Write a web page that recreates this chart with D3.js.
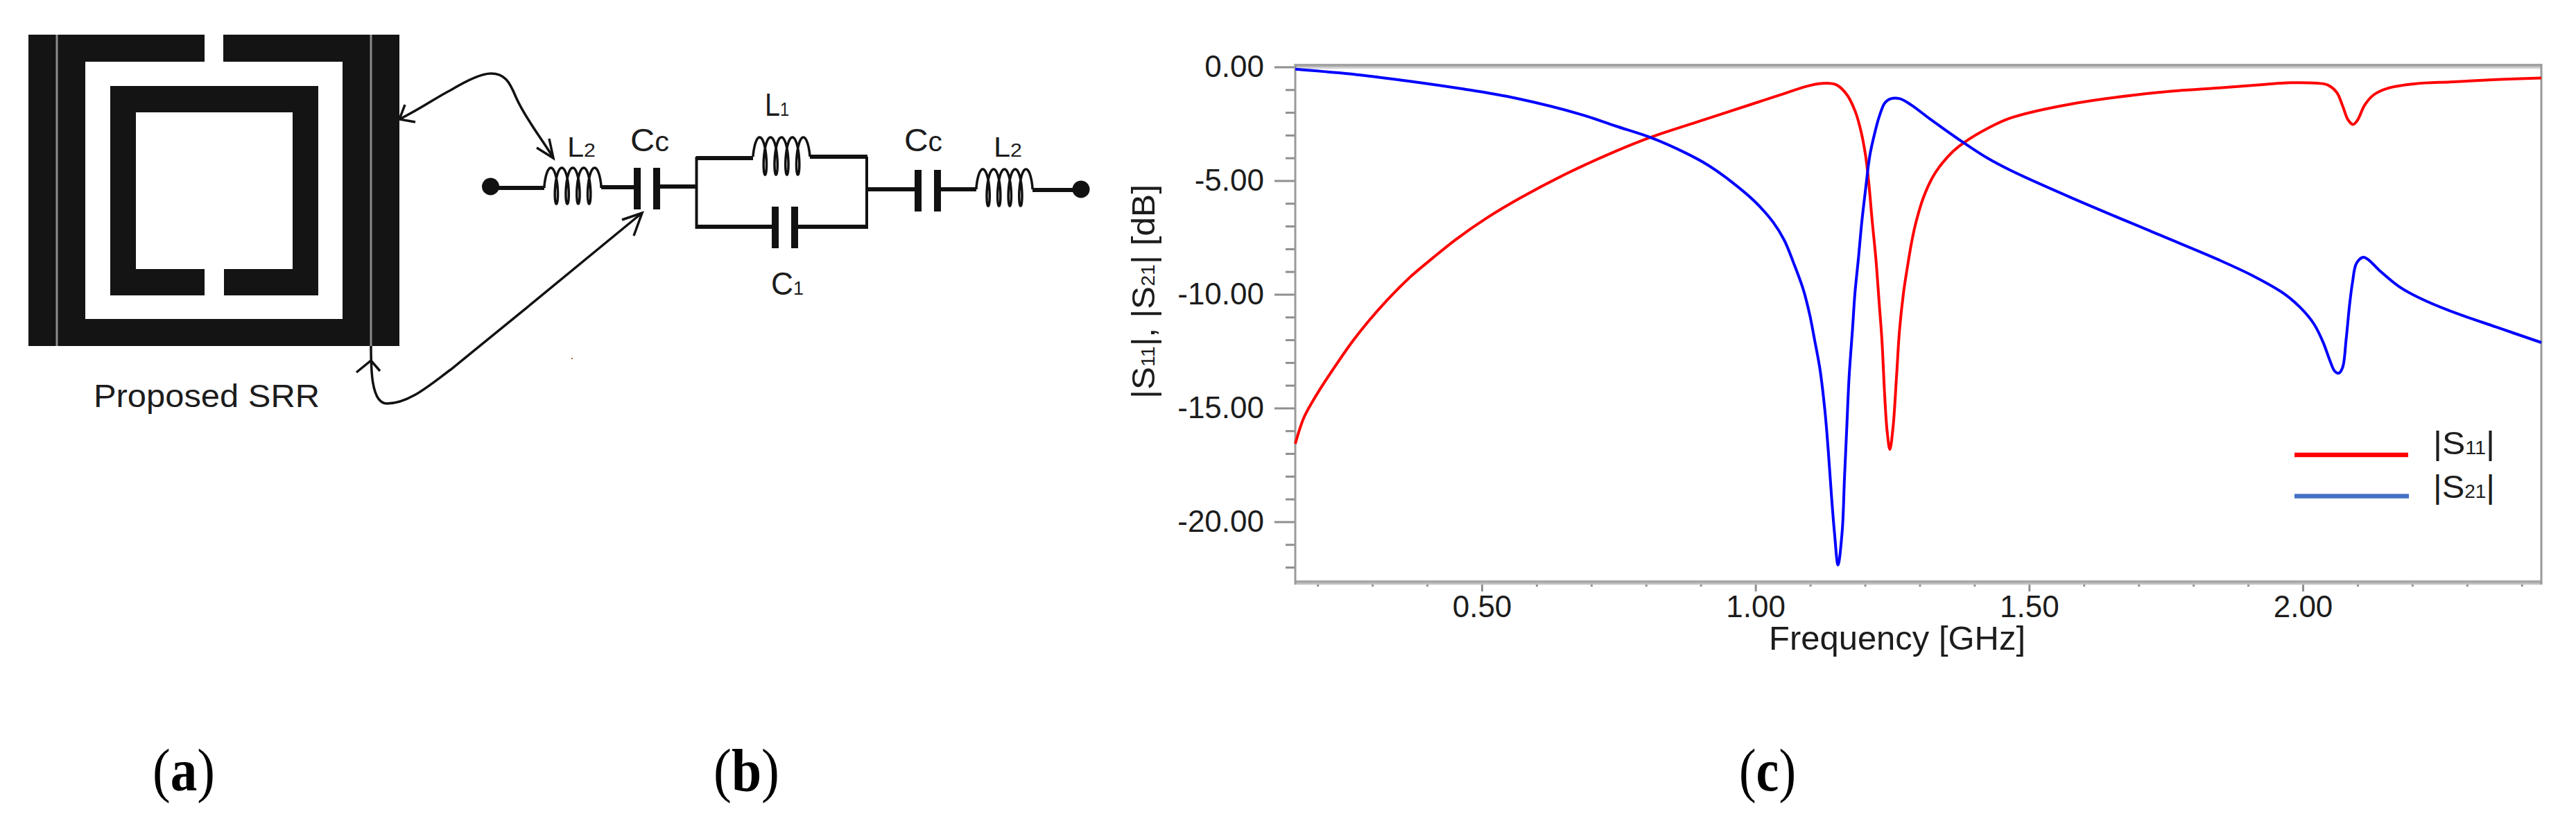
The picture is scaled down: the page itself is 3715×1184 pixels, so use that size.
<!DOCTYPE html>
<html>
<head>
<meta charset="utf-8">
<script src="https://cdn.jsdelivr.net/npm/d3@7"></script>
<style>
  html, body { margin: 0; padding: 0; background: #fff; }
  svg { display: block; }
  text { font-family: "Liberation Sans", Arial, sans-serif; fill: #1c1c1c; }
  .axis path { display: none; }
  .axis line { stroke: #8f8f8f; stroke-width: 3; }
  .axis text { font-size: 44px; fill: #1c1c1c; }
  .panel text { font-family: "Liberation Serif", serif; fill: #000; }
</style>
</head>
<body>
<div id="chart"></div>
<script>
// values (frequency in GHz, level in dB)
var s11Freq = [0.1592, 0.1744, 0.1913, 0.2124, 0.2377, 0.2631, 0.2948, 0.3264, 0.3686, 0.411, 0.4531, 0.508, 0.5713, 0.6558, 0.7445, 0.8079, 0.8924, 0.998, 1.044, 1.099, 1.129, 1.148, 1.167, 1.182, 1.192, 1.201, 1.207, 1.213, 1.220, 1.226, 1.231, 1.2365, 1.2407, 1.2455, 1.2513, 1.2577, 1.2631, 1.2703, 1.2766, 1.2851, 1.2935, 1.306, 1.323, 1.340, 1.361, 1.382, 1.4245, 1.467, 1.577, 1.7365, 1.847, 1.931, 1.970, 2.028, 2.045, 2.062, 2.073, 2.083, 2.092, 2.100, 2.113, 2.130, 2.155, 2.206, 2.269, 2.3535, 2.4358];
var s11Db = [-16.57, -15.45, -14.69, -13.87, -12.96, -12.09, -11.13, -10.27, -9.25, -8.39, -7.58, -6.66, -5.75, -4.68, -3.71, -3.10, -2.43, -1.60, -1.24, -0.82, -0.72, -0.79, -1.22, -1.94, -2.75, -3.87, -5.09, -6.71, -8.44, -10.37, -12.00, -14.64, -16.06, -16.82, -15.86, -13.62, -11.60, -9.96, -8.95, -7.73, -6.81, -5.80, -4.88, -4.27, -3.71, -3.31, -2.70, -2.24, -1.63, -1.12, -0.92, -0.77, -0.70, -0.72, -0.79, -1.12, -1.73, -2.34, -2.53, -2.34, -1.68, -1.22, -0.94, -0.74, -0.66, -0.56, -0.49];

var s21Freq = [0.1592, 0.272, 0.369, 0.466, 0.563, 0.6812, 0.7445, 0.8079, 0.8712, 0.9134, 0.9557, 0.998, 1.0318, 1.0528, 1.070, 1.087, 1.099, 1.108, 1.118, 1.127, 1.133, 1.139, 1.1445, 1.1508, 1.1584, 1.1626, 1.1668, 1.1711, 1.1774, 1.1817, 1.188, 1.1943, 1.2006, 1.2091, 1.2175, 1.226, 1.2365, 1.2471, 1.264, 1.285, 1.319, 1.382, 1.4245, 1.467, 1.577, 1.7365, 1.847, 1.910, 1.965, 1.995, 2.020, 2.037, 2.0495, 2.058, 2.0656, 2.0727, 2.0791, 2.0854, 2.0909, 2.098, 2.1107, 2.1213, 2.1424, 2.176, 2.214, 2.269, 2.3535, 2.4358];
var s21Db = [-0.10, -0.34, -0.63, -0.97, -1.38, -2.09, -2.60, -3.10, -3.77, -4.32, -5.04, -5.90, -6.81, -7.63, -8.64, -9.76, -10.88, -12.00, -13.32, -15.15, -16.88, -18.91, -20.53, -21.90, -20.43, -18.09, -15.86, -13.62, -11.49, -9.96, -8.44, -6.81, -5.49, -3.87, -2.95, -2.19, -1.58, -1.40, -1.40, -1.68, -2.29, -3.36, -4.02, -4.56, -5.75, -7.37, -8.49, -9.20, -9.96, -10.57, -11.29, -12.10, -12.91, -13.37, -13.47, -13.22, -12.00, -10.47, -9.46, -8.64, -8.37, -8.51, -9.00, -9.66, -10.17, -10.73, -11.44, -12.12];

var xMajor = [0.5, 1.0, 1.5, 2.0];
var xMinor = [0.2, 0.3, 0.4, 0.6, 0.7, 0.8, 0.9, 1.1, 1.2, 1.3, 1.4, 1.6, 1.7, 1.8, 1.9, 2.1, 2.2, 2.3, 2.4];
var yMajor = [0, -5, -10, -15, -20];
var yMinor = [-1, -2, -3, -4, -6, -7, -8, -9, -11, -12, -13, -14, -16, -17, -18, -19, -21, -22];

var w = 3715, h = 1184;

var svg = d3.select("#chart").append("svg")
    .attr("width", w)
    .attr("height", h)
    .style("font-family", "Liberation Sans");

// text with smaller digits on the same baseline, parts are [string, size]
function richText(g, parts, x, y, len) {
    var t = g.append("text").attr("x", x).attr("y", y);
    parts.forEach(function(p){
        t.append("tspan").attr("font-size", p[1]).text(p[0]);
    });
    if (len) t.attr("textLength", len).attr("lengthAdjust", "spacingAndGlyphs");
    return t;
}

// ---- (a) the ring ----
var srr = svg.append("g");
var ink = "#141414";
function box(x0, y0, x1, y1, fill) {
    srr.append("rect").attr("x", x0).attr("y", y0)
        .attr("width", x1 - x0).attr("height", y1 - y0).attr("fill", fill);
}
box(41, 50, 576, 499, ink);
box(123, 89, 494, 460, "#fff");
box(295, 50, 322, 89, "#fff");
box(159, 124, 459, 426, ink);
box(196, 162, 422, 388, "#fff");
box(295, 388, 323, 426, "#fff");
[82, 535].forEach(function(x){
    srr.append("line").attr("x1", x).attr("x2", x).attr("y1", 50).attr("y2", 499)
        .attr("stroke", "#8c8c8c").attr("stroke-width", 3);
});
srr.append("text").attr("x", 135).attr("y", 587).attr("font-size", 46)
    .attr("textLength", 326).attr("lengthAdjust", "spacingAndGlyphs").text("Proposed SRR");

// ---- (b) the circuit ----
var cir = svg.append("g");
function wire(x1, y1, x2, y2, sw) {
    cir.append("line").attr("x1", x1).attr("y1", y1).attr("x2", x2).attr("y2", y2)
        .attr("stroke", "#111").attr("stroke-width", sw || 5);
}
function cap(x1, x2, y1, y2) {
    wire(x1, y1, x1, y2, 10);
    wire(x2, y1, x2, y2, 10);
}
var coilLine = d3.line();
function coil(x0, x1, top, bottom, wireY) {
    var turns = 4, k = 2.2, pts = [[x0, wireY]];
    var r = (x1 - x0) / (2 * Math.PI * turns + Math.PI + 2 * k);
    var d = k * r;
    var cy = (top + bottom) / 2, hh = (bottom - top) / 2;
    d3.range(-Math.PI / 2, 2 * Math.PI * turns + Math.PI / 2 + 0.01, 0.1).forEach(function(t){
        pts.push([x0 + d + r * (t + Math.PI / 2) + d * Math.sin(t), cy - hh * Math.cos(t)]);
    });
    pts.push([x1, wireY]);
    cir.append("path").attr("d", coilLine(pts)).attr("fill", "none")
        .attr("stroke", "#111").attr("stroke-width", 3.5);
}
wire(707, 271, 785, 271, 6);
coil(785, 867, 242, 294, 271);
wire(867, 270, 919, 270, 6);
cap(919, 947, 242, 302);
wire(947, 269, 1004, 269, 6);
wire(1004.5, 226, 1004.5, 330, 4);
wire(1004, 228, 1086, 228, 6);
coil(1086, 1168, 198, 252, 226);
wire(1168, 226, 1251, 226, 6);
wire(1004, 327, 1118, 327, 6);
cap(1118, 1146, 298, 358);
wire(1146, 327, 1251, 327, 6);
wire(1250, 226, 1250, 330, 4);
wire(1250, 273, 1324, 273, 6);
cap(1324, 1352, 245, 305);
wire(1352, 273, 1408, 273, 6);
coil(1408, 1489, 244, 297, 273);
wire(1489, 274, 1559, 274, 6);
[[707.5, 269], [1559, 273]].forEach(function(c){
    cir.append("circle").attr("cx", c[0]).attr("cy", c[1]).attr("r", 12.5).attr("fill", "#111");
});

var lab = svg.append("g");
richText(lab, [["L", 40], ["2", 28]], 818, 226, 41);
richText(lab, [["C", 47], ["c", 40]], 909, 218, 56);
richText(lab, [["L", 47], ["1", 28]], 1103, 167, 35);
richText(lab, [["C", 47], ["c", 40]], 1304, 218, 55);
richText(lab, [["L", 40], ["2", 28]], 1433, 226, 41);
richText(lab, [["C", 46], ["1", 28]], 1112, 425, 47);

// leader curves between the ring and the circuit
var arrows = svg.append("g").attr("fill", "none").attr("stroke", "#111").attr("stroke-width", 3.5);
arrows.append("path").attr("d", "M576,172 C610,155 630,140 650,130 C675,115 695,106 708,106 C728,106 735,118 744,140 C758,172 785,205 798,228");
arrows.append("path").attr("d", "M584,151 L576,172 L599,176");
arrows.append("path").attr("d", "M774,213 L798,228 L792,200");
arrows.append("path").attr("d", "M535,499 C535,530 535,582 558,582 C590,582 620,555 650,533 C740,460 850,370 926,307");
arrows.append("path").attr("d", "M514,537 L535,520 L548,535");
arrows.append("path").attr("d", "M897,317 L926,307 L914,340");
svg.append("rect").attr("x", 824).attr("y", 516).attr("width", 2).attr("height", 2).attr("fill", "#8a6a40");

// ---- (c) the S-parameter plot ----
var x = d3.scaleLinear().domain([0.1592, 2.4358]).range([1868, 3665]);
var y = d3.scaleLinear().domain([0, -22.67]).range([96.5, 840]);

var plot = svg.append("g");

plot.append("g").attr("class", "axis").attr("transform", "translate(1868,0)")
    .call(d3.axisLeft(y).tickValues(yMinor).tickSize(14).tickFormat(""));
plot.append("g").attr("class", "axis").attr("transform", "translate(1868,0)")
    .call(d3.axisLeft(y).tickValues(yMajor).tickSize(30).tickPadding(15)
        .tickFormat(function(d){ return d.toFixed(2); }));
plot.append("g").attr("class", "axis").attr("transform", "translate(0,840)")
    .call(d3.axisBottom(x).tickValues(xMinor).tickSize(6).tickFormat(""));
plot.append("g").attr("class", "axis").attr("transform", "translate(0,840)")
    .call(d3.axisBottom(x).tickValues(xMajor).tickSize(13).tickPadding(6)
        .tickFormat(function(d){ return d.toFixed(2); }));

// frame: the horizontal edges are a dark line with a light one next to it
function edge(x1, y1, x2, y2, col, sw) {
    plot.append("line").attr("x1", x1).attr("y1", y1).attr("x2", x2).attr("y2", y2)
        .attr("stroke", col).attr("stroke-width", sw);
}
edge(1868, 94, 3666, 94, "#a3a3a3", 4);
edge(1868, 97.5, 3666, 97.5, "#cfcfcf", 3);
edge(1867, 839, 3666, 839, "#a8a8a8", 4);
edge(1867, 842, 3666, 842, "#c4c4c4", 2.5);
edge(1868, 92, 1868, 843, "#9a9a9a", 3);
edge(3665, 92, 3665, 843, "#9a9a9a", 3);

var line = d3.line()
    .x(function(d){ return x(d[0]); })
    .y(function(d){ return y(d[1]); })
    .curve(d3.curveCatmullRom.alpha(0.5));

plot.append("path").datum(d3.zip(s11Freq, s11Db))
    .attr("d", line).attr("fill", "none").attr("stroke", "#ff0000").attr("stroke-width", 4);
plot.append("path").datum(d3.zip(s21Freq, s21Db))
    .attr("d", line).attr("fill", "none").attr("stroke", "#0000ff").attr("stroke-width", 4);

// axis titles
var tg = plot.append("g");
tg.append("text").attr("x", 2551).attr("y", 937).attr("font-size", 49)
    .attr("textLength", 370).attr("lengthAdjust", "spacingAndGlyphs").text("Frequency [GHz]");
richText(tg, [["|S", 47], ["11", 27], ["|, |S", 47], ["21", 27], ["| [dB]", 47]], 0, 0, 309)
    .attr("transform", "translate(1665,575) rotate(-90)");

// legend
edge(3309, 656, 3473, 656, "#ff0000", 6.5);
edge(3309, 715.5, 3474, 715.5, "#4472c4", 6.5);
richText(tg, [["|S", 47], ["11", 27], ["|", 47]], 3509, 655, 89);
richText(tg, [["|S", 47], ["21", 27], ["|", 47]], 3509, 718, 89);

// panel letters
var panels = svg.append("g").attr("class", "panel");
[["a", 220, 90], ["b", 1029, 95], ["c", 2508, 82]].forEach(function(p){
    var t = panels.append("text").attr("x", p[1]).attr("y", 1140).attr("font-size", 86)
        .attr("textLength", p[2]).attr("lengthAdjust", "spacingAndGlyphs");
    t.append("tspan").text("(");
    t.append("tspan").attr("font-weight", "bold").text(p[0]);
    t.append("tspan").text(")");
});
</script>
</body>
</html>
